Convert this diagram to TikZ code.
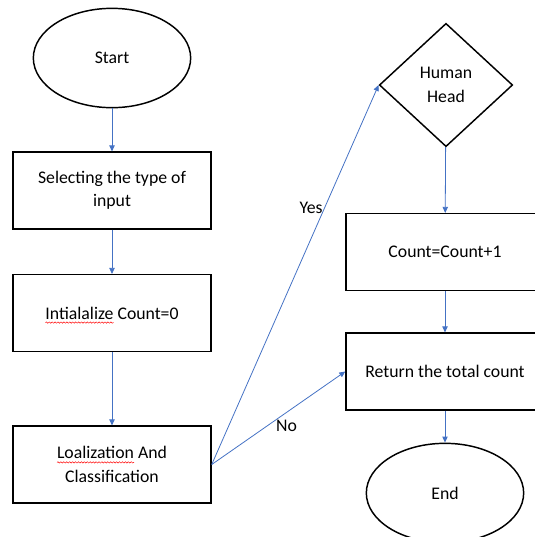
\documentclass[tikz,border=0pt]{standalone}
\usepackage{fontspec}
\setmainfont{Carlito}
\usepackage{tikz}
\usetikzlibrary{shapes.geometric}
\usetikzlibrary{arrows.meta}
\usetikzlibrary{decorations.pathmorphing}
\definecolor{flowblue}{RGB}{68,114,196}
% red spell-check wave under a word
\newlength{\wavelen}
\newcommand{\spellmark}[1]{\settowidth{\wavelen}{#1}#1\tikz[overlay,baseline=0pt]\draw[red,line width=0.35pt,decorate,decoration={snake,amplitude=0.5pt,segment length=2.2pt}] (-\wavelen,-2.6pt) -- (0pt,-2.6pt);}

\begin{document}
\begin{tikzpicture}[x=0.75pt,y=-0.75pt,
  every node/.style={font=\fontsize{13.3}{17.5}\selectfont,align=center,text=black},
  terminal/.style={ellipse,draw,line width=1.1pt,minimum width=118pt,minimum height=74.5pt,inner sep=0pt},
  process/.style={rectangle,draw,line width=1.1pt,minimum width=148.5pt,minimum height=57.5pt},
  decision/.style={diamond,draw,line width=1.1pt,minimum width=100pt,minimum height=92.5pt,inner sep=0pt},
  flow/.style={draw=flowblue,line width=0.6pt,-{Triangle[length=4.5pt,width=4pt]}},
  tag/.style={inner sep=1pt}]
\useasboundingbox (0,0) rectangle (535,537);
% left column
\node[terminal] (start) at (112,58) {Start};
\node[process] (select) at (112,190.5) {Selecting the type of\\input};
\node[process] (init) at (112,313) {\spellmark{Intialalize} Count=0};
\node[process] (locate) at (112,464.5) {\spellmark{Loalization} And\\Classification};
% right column
\node[decision] (head) at (446,85) {Human\\Head};
\node[process] (count) at (445,252) {Count=Count+1};
\node[process] (total) at (445,371.5) {Return the total count};
\node[terminal] (stop) at (445,493) {End};
% connectors
\draw[flow] (start) -- (select);
\draw[flow] (select) -- (init);
\draw[flow] (init) -- (locate);
\draw[flow] (locate.east) -- node[pos=0.675,left,tag] {Yes} (head.west);
\draw[flow] (locate.east) -- node[pos=0.56,below=2pt] {No} (total.west);
\draw[flow] (head) -- (count);
\draw[flow] (count) -- (total);
\draw[flow] (total) -- (stop);
\end{tikzpicture}
\end{document}
